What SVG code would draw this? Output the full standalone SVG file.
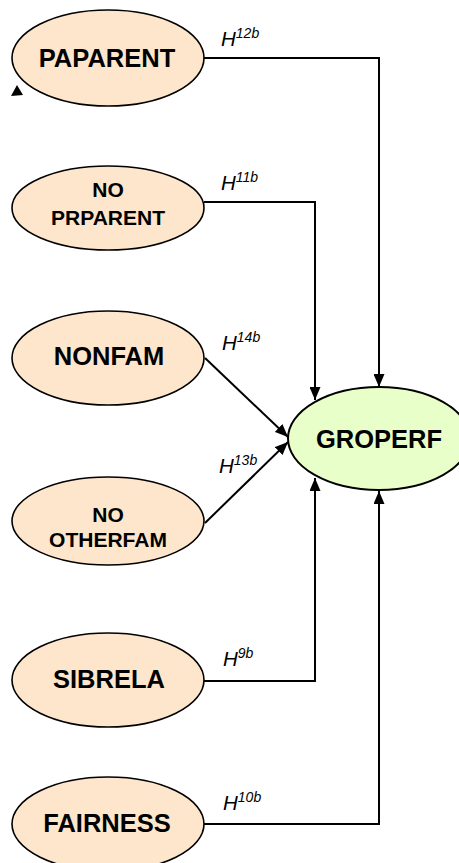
<svg xmlns="http://www.w3.org/2000/svg" width="459" height="863" viewBox="0 0 459 863">
<defs>
<style>
.n ellipse{fill:#FDE6CB;stroke:#000;stroke-width:1.6}
.g ellipse{fill:#E9FFC9;stroke:#000;stroke-width:2}
.t{font-family:"Liberation Sans",Arial,sans-serif;font-weight:bold;fill:#000;text-anchor:middle}
.b{font-size:25.5px}
.s{font-size:21px}
.lab{font-family:"Liberation Sans",Arial,sans-serif;font-style:italic;font-size:20.5px;fill:#000}
.sup{font-size:14px}
#edges path{fill:none;stroke:#000;stroke-width:2}
</style>
<marker id="ah" viewBox="0 0 13 11" refX="13" refY="5.5" markerWidth="13" markerHeight="11" markerUnits="userSpaceOnUse" orient="auto">
<path d="M0,0 L13,5.5 L0,11 z" fill="#000"/>
</marker>
</defs>
<rect width="459" height="863" fill="#fff"/>
<g id="edges">
<path d="M204,58 H379 V387" marker-end="url(#ah)"/>
<path d="M204,202 H315 V400" marker-end="url(#ah)"/>
<path d="M205,358 L288,437" marker-end="url(#ah)"/>
<path d="M205,523 L288,442" marker-end="url(#ah)"/>
<path d="M204,681 H315 V478" marker-end="url(#ah)"/>
<path d="M204,824 H379 V491" marker-end="url(#ah)"/>
</g>
<g id="labels">
<text class="lab" x="221" y="46">H<tspan class="sup" dy="-8">12b</tspan></text>
<text class="lab" x="221" y="190">H<tspan class="sup" dy="-8">11b</tspan></text>
<text class="lab" x="222" y="350">H<tspan class="sup" dy="-8">14b</tspan></text>
<text class="lab" x="219" y="473">H<tspan class="sup" dy="-8">13b</tspan></text>
<text class="lab" x="223" y="666">H<tspan class="sup" dy="-8">9b</tspan></text>
<text class="lab" x="223" y="810">H<tspan class="sup" dy="-8">10b</tspan></text>
</g>
<g id="PAPARENT" class="n">
<ellipse cx="108" cy="58" rx="96" ry="48"/>
<text class="t b" x="107" y="67">PAPARENT</text>
<polygon points="11,96 23,95 17,85" fill="#000"/>
</g>
<g id="NOPRPARENT" class="n">
<ellipse cx="108" cy="208" rx="96" ry="42"/>
<text class="t s" x="108" y="197">NO</text>
<text class="t s" x="108" y="225">PRPARENT</text>
</g>
<g id="NONFAM" class="n">
<ellipse cx="108" cy="358" rx="96" ry="47"/>
<text class="t b" x="109" y="365">NONFAM</text>
</g>
<g id="NOOTHERFAM" class="n">
<ellipse cx="108" cy="521" rx="96" ry="44"/>
<text class="t s" x="108" y="522">NO</text>
<text class="t s" x="108" y="547">OTHERFAM</text>
</g>
<g id="SIBRELA" class="n">
<ellipse cx="108" cy="680" rx="96" ry="47"/>
<text class="t b" x="109" y="688">SIBRELA</text>
</g>
<g id="FAIRNESS" class="n">
<ellipse cx="108" cy="824" rx="96" ry="47"/>
<text class="t b" x="107" y="832">FAIRNESS</text>
</g>
<g id="GROPERF" class="g">
<ellipse cx="379" cy="438.5" rx="91" ry="51.5"/>
<text class="t b" x="379" y="448">GROPERF</text>
</g>
</svg>
